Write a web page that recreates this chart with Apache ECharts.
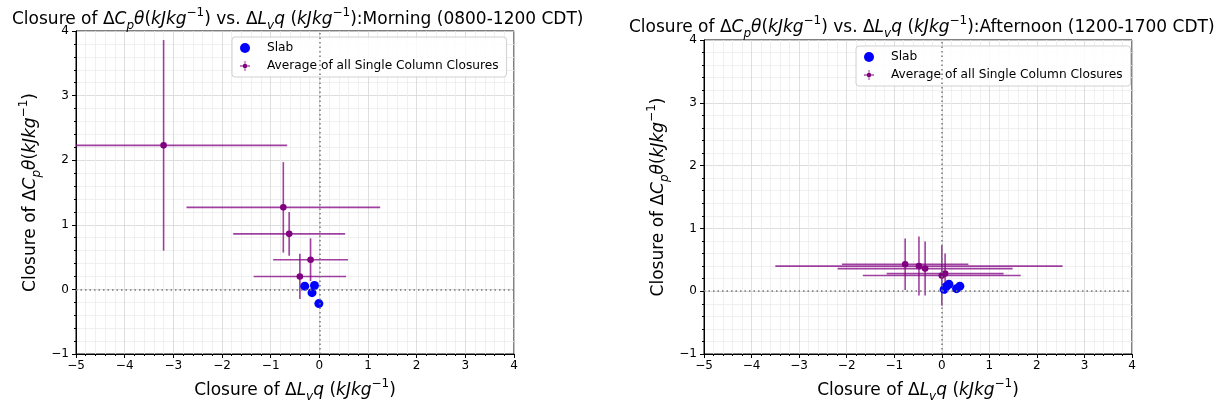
<!DOCTYPE html>
<html>
<head>
<meta charset="utf-8">
<script src="https://cdn.jsdelivr.net/npm/echarts@6/dist/echarts.min.js"></script>
<style>
html, body { margin: 0; padding: 0; background: #fff; }
#main { width: 1220px; height: 408px; }
</style>
</head>
<body>
<div id="main"></div>
<script>
// tick labels
var xTicks = [-5, -4, -3, -2, -1, 0, 1, 2, 3, 4];
var yTicks = [-1, 0, 1, 2, 3, 4];

// Morning (0800-1200 CDT)
var morningSlab = [[-0.30, 0.05], [-0.10, 0.06], [-0.15, -0.05], [-0.01, -0.22]];
var morningAvgX = [-3.20, -0.74, -0.62, -0.18, -0.40];
var morningAvgY = [2.23, 1.27, 0.86, 0.46, 0.20];
var morningErrX = [2.54, 1.99, 1.15, 0.77, 0.95];
var morningErrY = [1.63, 0.70, 0.34, 0.33, 0.35];

// Afternoon (1200-1700 CDT)
var afternoonSlab = [[0.05, 0.03], [0.09, 0.07], [0.15, 0.11], [0.31, 0.04], [0.38, 0.08]];
var afternoonAvgX = [-0.77, -0.48, -0.35, 0.00, 0.07];
var afternoonAvgY = [0.43, 0.40, 0.36, 0.25, 0.28];
var afternoonErrX = [1.33, 3.02, 1.84, 1.66, 1.23];
var afternoonErrY = [0.41, 0.47, 0.43, 0.48, 0.32];

var FONT = 'DejaVu Sans';
function makeRich(size) {
    var lh = Math.round(size * 1.45);
    var small = Math.round(size * 0.68);
    return {
        i: { fontStyle: 'italic', fontFamily: FONT, fontSize: size, lineHeight: lh, verticalAlign: 'middle' },
        sb: { fontStyle: 'italic', fontFamily: FONT, fontSize: small, lineHeight: lh, verticalAlign: 'bottom' },
        sp: { fontFamily: FONT, fontSize: small, lineHeight: lh, verticalAlign: 'top' }
    };
}
var titleRich = makeRich(17);
var axRich = makeRich(17);

var cptheta = 'Δ{i|C}{sb|p}{i|θ}({i|kJkg}{sp|−1})';
var lvq = 'Δ{i|L}{sb|v}{i|q} ({i|kJkg}{sp|−1})';

function minus(v) { return String(v).replace('-', '−'); }

function errData(xs, ys, exs, eys) {
    return xs.map(function (x, i) { return [x, ys[i], exs[i], eys[i]]; });
}

function errorBarItem(params, api) {
    var x = api.value(0), y = api.value(1), ex = api.value(2), ey = api.value(3);
    var c = api.coord([x, y]);
    var l = api.coord([x - ex, y]);
    var r = api.coord([x + ex, y]);
    var t = api.coord([x, y + ey]);
    var b = api.coord([x, y - ey]);
    var rect = params.coordSys;
    var lineStyle = { stroke: '#800080', lineWidth: 1.6, opacity: 0.75 };
    return {
        type: 'group',
        children: [
            { type: 'line', shape: { x1: Math.max(l[0], rect.x), y1: l[1], x2: Math.min(r[0], rect.x + rect.width), y2: r[1] }, style: lineStyle },
            { type: 'line', shape: { x1: t[0], y1: Math.max(t[1], rect.y), x2: b[0], y2: Math.min(b[1], rect.y + rect.height) }, style: lineStyle },
            { type: 'circle', shape: { cx: c[0], cy: c[1], r: 3.3 }, style: { fill: '#800080' } }
        ]
    };
}

function xAxisCfg(idx) {
    return {
        type: 'value', gridIndex: idx, min: -5, max: 4, interval: 1,
        name: 'Closure of ' + lvq, nameLocation: 'middle', nameGap: 24,
        nameTextStyle: { fontFamily: FONT, fontSize: 17, color: '#000', lineHeight: 25, rich: axRich },
        axisLine: { show: true, onZero: false, lineStyle: { color: '#000', width: 1 } },
        axisTick: { show: true, length: 4, lineStyle: { color: '#000' } },
        minorTick: { show: true, splitNumber: 5, length: 2, lineStyle: { color: '#000' } },
        axisLabel: { color: '#000', fontFamily: FONT, fontSize: 12, margin: 6, formatter: minus },
        splitLine: { show: true, lineStyle: { color: '#d6d6d6', width: 0.8 } },
        minorSplitLine: { show: true, lineStyle: { color: '#ececec', width: 0.8 } }
    };
}
function yAxisCfg(idx) {
    return {
        type: 'value', gridIndex: idx, min: -1, max: 4, interval: 1,
        name: 'Closure of ' + cptheta, nameLocation: 'middle', nameGap: 33, nameRotate: 90,
        nameTextStyle: { fontFamily: FONT, fontSize: 17, color: '#000', lineHeight: 25, rich: axRich },
        axisLine: { show: true, onZero: false, lineStyle: { color: '#000', width: 1 } },
        axisTick: { show: true, length: 4, lineStyle: { color: '#000' } },
        minorTick: { show: true, splitNumber: 5, length: 2, lineStyle: { color: '#000' } },
        axisLabel: { color: '#000', fontFamily: FONT, fontSize: 12, margin: 7, formatter: minus },
        splitLine: { show: true, lineStyle: { color: '#d6d6d6', width: 0.8 } },
        minorSplitLine: { show: true, lineStyle: { color: '#ececec', width: 0.8 } }
    };
}

var zeroLines = {
    silent: true, symbol: 'none', label: { show: false },
    lineStyle: { color: '#777', type: [1.5, 3], width: 1.5 },
    data: [{ xAxis: 0 }, { yAxis: 0 }]
};

var avgIcon = 'path://M0,9.2L20,9.2L20,10.8L0,10.8Z M9.2,0L10.8,0L10.8,20L9.2,20Z M10,5.5A4.5,4.5 0 1 1 9.99,5.5Z';

function legendCfg(left, top) {
    return {
        left: left, top: top, orient: 'vertical', itemGap: 6,
        itemWidth: 16, itemHeight: 10,
        padding: [5, 8, 5, 8],
        borderColor: '#d0d0d0', borderWidth: 1, borderRadius: 3,
        backgroundColor: 'rgba(255,255,255,0.85)',
        textStyle: { fontFamily: FONT, fontSize: 12.2, color: '#000', padding: [0, 0, 0, 9] },
        data: [
            { name: 'Slab', icon: 'circle' },
            { name: 'Average of all Single Column Closures', icon: avgIcon }
        ]
    };
}

function titleCfg(left, top, period) {
    return {
        left: left, top: top,
        text: 'Closure of ' + cptheta + ' vs. ' + lvq + ':' + period,
        textStyle: { fontFamily: FONT, fontSize: 17, fontWeight: 'normal', color: '#000', lineHeight: 25, rich: titleRich }
    };
}

var dom = document.getElementById('main');
var myChart = echarts.init(dom);
var option = {
    backgroundColor: '#fff',
    animation: false,
    title: [
        titleCfg(7, 2, 'Morning (0800-1200 CDT)'),
        titleCfg(624, 10, 'Afternoon (1200-1700 CDT)')
    ],
    legend: [legendCfg(232, 37), legendCfg(856, 46)],
    grid: [
        { left: 76, top: 31, width: 438, height: 326, show: true, borderColor: '#000', borderWidth: 1, backgroundColor: 'transparent' },
        { left: 704, top: 40, width: 428, height: 318, show: true, borderColor: '#000', borderWidth: 1, backgroundColor: 'transparent' }
    ],
    xAxis: [xAxisCfg(0), xAxisCfg(1)],
    yAxis: [yAxisCfg(0), yAxisCfg(1)],
    series: [
        {
            name: 'Average of all Single Column Closures', type: 'custom',
            xAxisIndex: 0, yAxisIndex: 0, renderItem: errorBarItem, z: 3,
            itemStyle: { color: '#800080' }, encode: { x: 0, y: 1 },
            data: errData(morningAvgX, morningAvgY, morningErrX, morningErrY),
            markLine: zeroLines
        },
        {
            name: 'Slab', type: 'scatter', xAxisIndex: 0, yAxisIndex: 0, z: 4,
            symbolSize: 9, itemStyle: { color: '#0000ff', opacity: 1 },
            data: morningSlab
        },
        {
            name: 'Average of all Single Column Closures', type: 'custom',
            xAxisIndex: 1, yAxisIndex: 1, renderItem: errorBarItem, z: 3,
            itemStyle: { color: '#800080' }, encode: { x: 0, y: 1 },
            data: errData(afternoonAvgX, afternoonAvgY, afternoonErrX, afternoonErrY),
            markLine: zeroLines
        },
        {
            name: 'Slab', type: 'scatter', xAxisIndex: 1, yAxisIndex: 1, z: 4,
            symbolSize: 9, itemStyle: { color: '#0000ff', opacity: 1 },
            data: afternoonSlab
        }
    ]
};
if (option && typeof option === "object") {
    myChart.setOption(option, true);
}
</script>
</body>
</html>
